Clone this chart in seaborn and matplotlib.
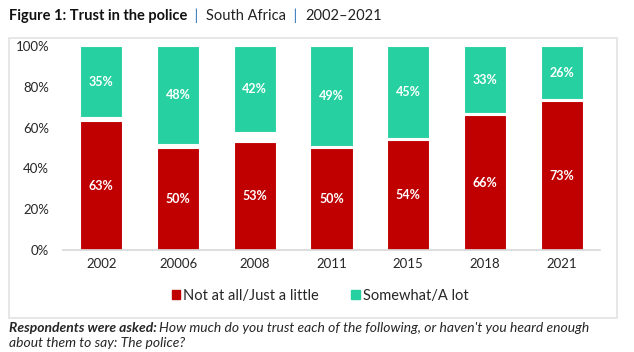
import matplotlib
matplotlib.use("Agg")
import matplotlib.pyplot as plt
import seaborn as sns
import pandas as pd
from matplotlib.patches import Rectangle

years = ['2002', '20006', '2008', '2011', '2015', '2018', '2021']
not_at_all = [63, 50, 53, 50, 54, 66, 73]
somewhat = [35, 48, 42, 49, 45, 33, 26]

red = '#C00000'
green = '#26D0A0'

sns.set_theme(style='white')
plt.rcParams['font.family'] = ['Lato', 'DejaVu Sans']

df = pd.DataFrame({'year': years, 'low': not_at_all, 'high': somewhat})
df['green_bottom'] = 100 - df['high']

fig = plt.figure(figsize=(6.34, 3.52), dpi=100)
ax = fig.add_axes([63 / 634, 1 - 250 / 352, (600 - 63) / 634, 204 / 352])

# outer frame
fig.patches.append(Rectangle((9 / 634, 1 - 318 / 352), 608 / 634, 280 / 352,
                             transform=fig.transFigure, fill=False,
                             edgecolor='#E3E3E3', linewidth=1.2))

sns.barplot(data=df, x='year', y='low', color=red, width=0.55,
            edgecolor='white', linewidth=0.8, saturation=1, ax=ax)
ax.bar(range(len(years)), df['high'], bottom=df['green_bottom'], width=0.55,
       color=green, edgecolor='white', linewidth=0.8)

for i, (lo, hi) in enumerate(zip(not_at_all, somewhat)):
    ax.text(i, lo / 2, f'{lo}%', ha='center', va='center', color='white',
            fontsize=9, fontweight='bold')
    ax.text(i, 100 - hi / 2, f'{hi}%', ha='center', va='center', color='white',
            fontsize=9, fontweight='bold')

ax.set_ylim(0, 100)
ax.set_xlim(-0.5, len(years) - 0.5)
ax.set_yticks(range(0, 101, 20))
ax.set_yticklabels([f'{v}%' for v in range(0, 101, 20)], fontsize=9.5)
ax.tick_params(axis='x', labelsize=9.5, pad=6, length=0)
ax.tick_params(axis='y', length=0, pad=10)
ax.set_xlabel('')
ax.set_ylabel('')
sns.despine(ax=ax, left=True, top=True, right=True)
ax.spines['bottom'].set_color('#D9D9D9')

handles = [Rectangle((0, 0), 1, 1, color=red), Rectangle((0, 0), 1, 1, color=green)]
fig.legend(handles, ['Not at all/Just a little', 'Somewhat/A lot'],
           loc='center', bbox_to_anchor=(320 / 634, 1 - 296 / 352), ncol=2,
           frameon=False, fontsize=10.5, handlelength=0.6, handleheight=0.6,
           handletextpad=0.2, columnspacing=2.2)

# title
t1 = fig.text(9 / 634, 1 - 16 / 352, 'Figure 1: Trust in the police', fontsize=10.5,
              fontweight='bold', va='center', ha='left', color='#111111')
fig.canvas.draw()
x = t1.get_window_extent().x1 / fig.bbox.width
parts = [('  |  ', '#2E75B6'), ('South Africa', '#222222'), ('  |  ', '#2E75B6'), ('2002–2021', '#222222')]
for txt, col in parts:
    t = fig.text(x, 1 - 16 / 352, txt, fontsize=10.5, va='center', ha='left', color=col)
    fig.canvas.draw()
    x = t.get_window_extent().x1 / fig.bbox.width

# footnote
f1 = fig.text(9 / 634, 1 - 328 / 352, 'Respondents were asked:', fontsize=10,
              fontweight='bold', fontstyle='italic', va='center', ha='left')
fig.canvas.draw()
fx = f1.get_window_extent().x1 / fig.bbox.width + 0.004
fig.text(fx, 1 - 328 / 352,
         "How much do you trust each of the following, or haven't you heard enough",
         fontsize=10, fontstyle='italic', va='center', ha='left')
fig.text(9 / 634, 1 - 343 / 352, 'about them to say: The police?', fontsize=10,
         fontstyle='italic', va='center', ha='left')

fig.savefig('out.png', dpi=100)
